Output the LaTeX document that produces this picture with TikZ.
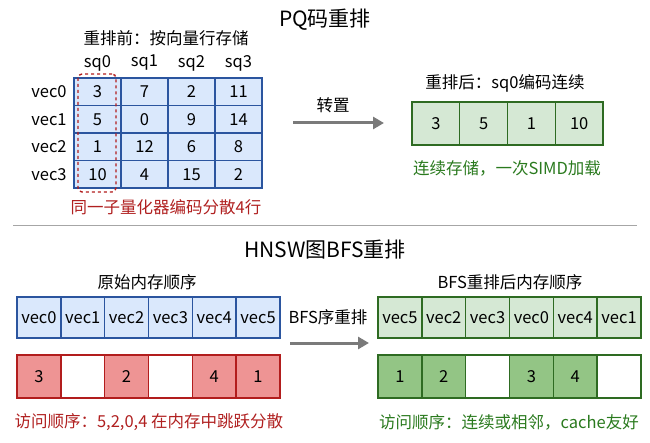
\documentclass[tikz,border=0pt]{standalone}
\usepackage{fontspec}
\setmainfont{Noto Sans CJK SC}
\usepackage{xcolor}
\usetikzlibrary{
  arrows.meta,
  positioning,
  calc
}
\definecolor{bordoazul}{HTML}{2B559F}
\definecolor{fundoazul}{HTML}{DAE8FC}
\definecolor{bordoverde}{HTML}{2E6B22}
\definecolor{fundoverde}{HTML}{D5E8D4}
\definecolor{verdeforte}{HTML}{93C585}
\definecolor{bordovermelho}{HTML}{B21D1D}
\definecolor{fundovermelho}{HTML}{EE9494}
\definecolor{textovermelho}{HTML}{B02020}
\definecolor{textoverde}{HTML}{2A7A1E}
\definecolor{cinza}{HTML}{7A7A7A}

\begin{document}
\begin{tikzpicture}[
      x=1pt, y=-1pt,
      >={Triangle[length=11pt,width=12pt]},
      every node/.style={font=\fontsize{16.5}{19}\selectfont},
      titulo/.style={font=\fontsize{21}{24}\selectfont},
      celula/.style={line width=1.4pt, inner sep=0pt, minimum width=47pt, minimum height=27.5pt},
      celazul/.style={celula, draw=bordoazul, fill=fundoazul},
      celverde/.style={celula, draw=bordoverde, fill=fundoverde, minimum width=47.75pt, minimum height=43pt},
      blocoazul/.style={celazul, minimum width=43.83pt, minimum height=41pt},
      blocoverde/.style={celula, draw=bordoverde, fill=fundoverde, minimum width=43.83pt, minimum height=41pt},
      acver/.style={celula, draw=bordovermelho, fill=fundovermelho, minimum width=43.83pt, minimum height=43pt},
      vazver/.style={acver, fill=white},
      acverde/.style={celula, draw=bordoverde, fill=verdeforte, minimum width=43.83pt, minimum height=43pt},
      vazverde/.style={acverde, fill=white},
      seta/.style={->, line width=3pt, cinza}
  ]
      \useasboundingbox (0,0) rectangle (650,443);

      % PQ: antes da transposicao
      \node[titulo] (tit1) at (325,20) {PQ码重排};
      \node (antes) at (166,38) {重排前：按向量行存储};
      \foreach \c in {0,...,3}
        \node (sq\c) at (97.5+47*\c,63) {sq\c};
      \foreach \a/\b/\c/\d [count=\r from 0] in {3/7/2/11, 5/0/9/14, 1/12/6/8, 10/4/15/2} {
        \node (vec\r) at (49,91.75+27.5*\r) {vec\r};
        \node[celazul] (m\r0) at (97.5,91.75+27.5*\r) {\a};
        \node[celazul] (m\r1) at (144.5,91.75+27.5*\r) {\b};
        \node[celazul] (m\r2) at (191.5,91.75+27.5*\r) {\c};
        \node[celazul] (m\r3) at (238.5,91.75+27.5*\r) {\d};
      }
      \node[draw=bordovermelho, dashed, line width=1.4pt, rounded corners=4pt, minimum width=38pt, minimum height=118pt] (grupo) at (97,133) {};
      \node[text=textovermelho] (disperso) at (166,207) {同一子量化器编码分散4行};

      % Transposicao
      \coordinate (t0) at (293,123);
      \coordinate (t1) at (384,123);
      \draw[seta] (t0) -- (t1);
      \node (transp) at (333,105) {转置};

      % Depois
      \node (depois) at (505,83) {重排后：sq0编码连续};
      \foreach \v [count=\i from 0] in {3,5,1,10}
        \node[celverde] (p\i) at (435.9+47.75*\i,123.5) {\v};
      \node[text=textoverde] (simd) at (507,168) {连续存储，一次SIMD加载};

      % Separador
      \coordinate (s0) at (13,226);
      \coordinate (s1) at (637,226);
      \draw[line width=1pt, black!35] (s0) -- (s1);

      % HNSW: ordem original
      \node[titulo] (tit2) at (325,250) {HNSW图BFS重排};
      \node (orig) at (147,282) {原始内存顺序};
      \foreach \i in {0,...,5}
        \node[blocoazul] (o\i) at (38.9+43.83*\i,317.5) {vec\i};
      \foreach \t/\s [count=\i from 0] in {3/acver, {}/vazver, 2/acver, {}/vazver, 4/acver, 1/acver}
        \node[\s] (ao\i) at (38.9+43.83*\i,376.5) {\t};
      \node[text=textovermelho, anchor=west] (salto) at (11,422) {访问顺序：5,2,0,4 在内存中跳跃分散};

      % Reordenacao BFS
      \coordinate (b0) at (290,343);
      \coordinate (b1) at (369,343);
      \draw[seta] (b0) -- (b1);
      \node (bfs) at (328,317) {BFS序重排};

      % Ordem BFS
      \node (nova) at (510,282) {BFS重排后内存顺序};
      \foreach \v [count=\i from 0] in {5,2,3,0,4,1}
        \node[blocoverde] (n\i) at (399.9+43.83*\i,317.5) {vec\v};
      \foreach \t/\s [count=\i from 0] in {1/acverde, 2/acverde, {}/vazverde, 3/acverde, 4/acverde, {}/vazverde}
        \node[\s] (an\i) at (399.9+43.83*\i,376.5) {\t};
      \node[text=textoverde] (cache) at (509,422) {访问顺序：连续或相邻，cache友好};
  \end{tikzpicture}
\end{document}
